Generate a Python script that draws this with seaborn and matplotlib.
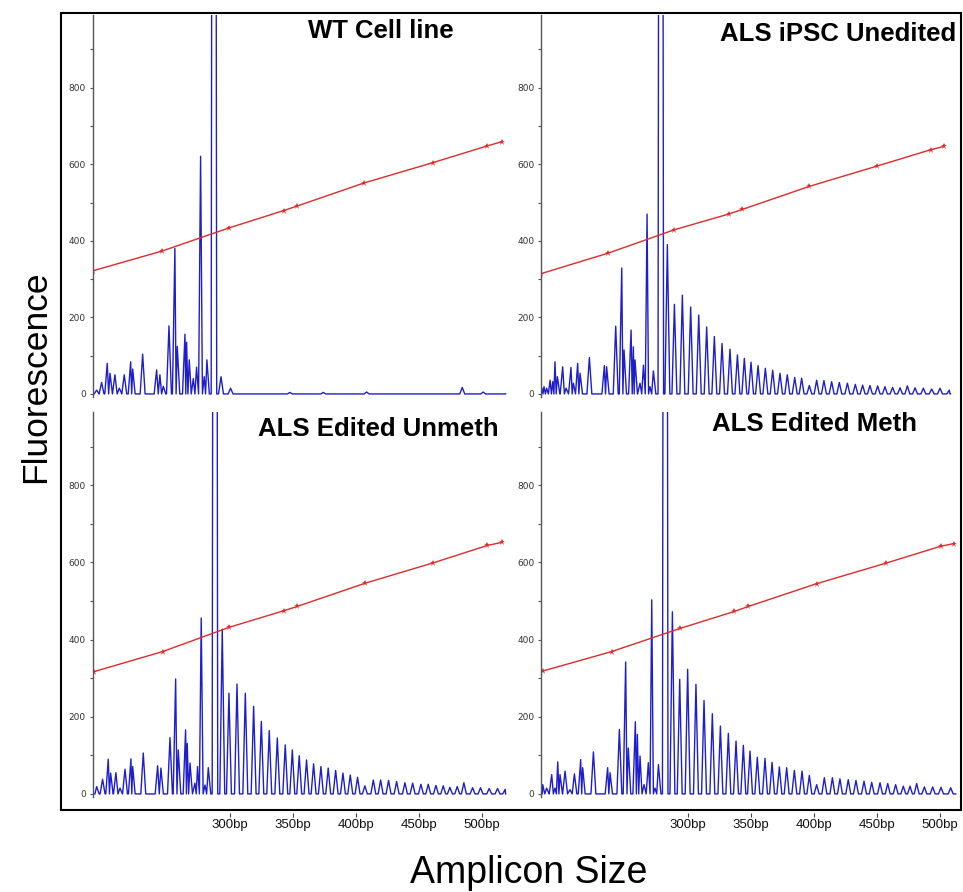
import numpy as np
import matplotlib
matplotlib.use("Agg")
import matplotlib.pyplot as plt
import matplotlib.patches as mpatches
import seaborn as sns

# ---------------------------------------------------------------------------
# Data (x in bp, y in RFU)
# ---------------------------------------------------------------------------
PANEL_TITLES = ["WT Cell line", "ALS iPSC Unedited", "ALS Edited Unmeth", "ALS Edited Meth"]

# WT cell line (top left)
WT_POS = [194.2, 198.1, 202.6, 204.8, 208.7, 212.2, 216.1, 221.2, 222.8, 230.7,
          241.8, 244.4, 247.1, 251.6, 256.3, 258.2, 264.3, 265.6, 267.7, 270.9,
          273.5, 276.7, 279.6, 281.7, 287.3, 292.9, 300.5, 347.6, 374.1, 408.5,
          484.4, 501.0]
WT_HGT = [10, 30, 80, 54, 50, 15, 50, 84, 65, 104,
          63, 50, 20, 178, 380, 124, 156, 135, 89, 40,
          70, 621, 45, 89, 6000, 45, 15, 4, 4, 5,
          17, 5]

# ALS iPSC unedited (top right)
UNED_POS = [184.0, 185.7, 187.8, 190.5, 192.6, 194.4, 196.3, 200.5, 203.2, 207.1,
            209.0, 212.4, 214.3, 221.7, 233.6, 235.4, 242.6, 247.4, 249.2, 254.8,
            256.6, 257.9, 261.9, 264.6, 267.5, 269.8, 272.5, 278.4, 283.6, 289.2,
            295.5, 302.1, 308.5, 314.8, 320.9, 327.0, 333.3, 339.2, 344.7, 350.0,
            355.6, 361.4, 367.2, 373.0, 378.8, 384.7, 390.2, 396.3, 402.1, 407.9,
            414.0, 420.1, 426.5, 432.8, 438.6, 444.4, 450.5, 456.3, 462.4, 468.3,
            474.1, 480.2, 486.8, 493.4, 500.0, 507.4]
UNED_HGT = [15, 19, 15, 36, 32, 84, 45, 71, 15, 69,
            28, 80, 54, 95, 74, 71, 177, 329, 115, 167,
            123, 89, 28, 75, 470, 19, 60, 6000, 390, 234,
            258, 227, 206, 175, 150, 132, 117, 102, 93, 83,
            74, 67, 62, 54, 50, 43, 41, 22, 36, 35,
            32, 30, 28, 25, 23, 22, 21, 19, 17, 16,
            21, 16, 15, 13, 15, 10]

# ALS edited, unmethylated (bottom left)
UNMETH_POS = [194.2, 198.9, 203.4, 205.3, 209.5, 212.7, 216.7, 221.4, 222.8, 231.2,
              242.6, 245.2, 252.4, 256.9, 259.0, 264.8, 266.1, 268.3, 272.2, 274.3,
              277.2, 280.2, 282.8, 288.1, 293.9, 299.2, 305.6, 312.2, 318.8, 324.9,
              331.2, 337.6, 343.9, 349.5, 355.0, 360.8, 366.4, 372.2, 378.0, 383.9,
              389.7, 395.5, 401.3, 407.1, 413.8, 419.6, 425.9, 432.3, 438.9, 445.0,
              451.6, 457.4, 463.5, 469.3, 474.6, 480.4, 485.7, 492.6, 498.9, 505.8,
              512.4, 518.5]
UNMETH_HGT = [19, 38, 90, 54, 55, 15, 64, 91, 71, 106,
              73, 67, 146, 298, 114, 166, 131, 80, 28, 71,
              456, 23, 68, 6000, 427, 261, 285, 261, 227, 188,
              164, 145, 127, 114, 99, 88, 78, 71, 67, 61,
              54, 49, 43, 21, 36, 36, 35, 32, 29, 28,
              25, 25, 22, 21, 17, 19, 29, 16, 16, 14,
              14, 12]

# ALS edited, methylated (bottom right)
METH_POS = [184.7, 187.8, 191.8, 194.4, 196.6, 198.4, 202.4, 206.3, 209.8, 214.8,
            216.4, 224.9, 236.2, 238.1, 245.5, 250.5, 252.6, 258.2, 259.8, 261.9,
            265.1, 268.5, 271.2, 273.8, 276.5, 281.9, 287.6, 293.4, 299.7, 306.3,
            312.7, 319.3, 325.7, 332.0, 338.1, 343.9, 349.2, 355.0, 361.1, 366.7,
            372.5, 378.3, 384.4, 390.5, 396.3, 402.1, 408.2, 414.6, 420.6, 427.2,
            433.3, 439.7, 445.8, 452.4, 458.5, 464.8, 470.9, 476.2, 481.5, 487.6,
            494.2, 500.8, 508.5]
METH_HGT = [24, 15, 50, 15, 83, 50, 59, 11, 52, 89,
            68, 109, 68, 55, 167, 342, 119, 187, 154, 98,
            24, 81, 503, 15, 76, 6000, 472, 297, 323, 284,
            242, 208, 176, 157, 137, 126, 111, 95, 92, 82,
            70, 68, 61, 59, 48, 24, 42, 42, 39, 37,
            35, 33, 30, 29, 27, 24, 20, 20, 27, 18,
            18, 17, 16]

# first / last scan point of each trace (bp)
SCAN_START = [190.2, 182.5, 191.5, 183.9]
SCAN_END = [519.0, 508.5, 519.0, 512.7]

# size standard (red) markers per panel
STD_X = [
    [191.5, 245.8, 299.5, 342.6, 353.4, 406.3, 460.8, 504.2, 515.9],
    [183.1, 236.8, 289.2, 332.3, 343.1, 396.0, 449.7, 492.6, 503.4],
    [192.1, 246.6, 299.5, 342.9, 353.4, 407.1, 461.4, 504.2, 515.9],
    [185.2, 239.4, 293.7, 336.8, 347.9, 402.1, 456.9, 500.5, 511.1],
]
STD_Y = [
    [322, 373, 434, 479, 491, 551, 604, 648, 659],
    [314, 368, 429, 470, 482, 542, 595, 638, 647],
    [317, 369, 432, 475, 486, 546, 599, 644, 652],
    [319, 369, 429, 473, 486, 545, 598, 642, 649],
]

X_TICKS = [300, 350, 400, 450, 500]
X_TICK_LABELS = ["300bp", "350bp", "400bp", "450bp", "500bp"]
Y_TICKS = [0, 200, 400, 600, 800]
Y_MINOR_TICKS = [100, 300, 500, 700, 900]

W, H = 963, 892
BLUE = "#1e1ecc"
RED = "#e02a2a"


def fig_rect(left, top, right, bottom):
    # pixel box (from top-left) -> figure fraction [l, b, w, h]
    return [left / W, 1 - bottom / H, (right - left) / W, (bottom - top) / H]


def build_trace(pos, hgt, start, end, half_width=1.95, big_half_width=2.2):
    xs, ys = [start], [0.0]
    n = len(pos)
    for i in range(n):
        p, h = pos[i], hgt[i]
        left_gap = p - (pos[i - 1] if i > 0 else start)
        right_gap = (pos[i + 1] if i < n - 1 else end) - p
        hw = big_half_width if h > 1000 else half_width
        wl = min(hw, left_gap / 2)
        wr = min(hw, right_gap / 2)
        xs += [p - wl, p, p + wr]
        ys += [0.0, h, 0.0]
    xs.append(end)
    ys.append(0.0)
    return xs, ys


def draw_figure():
    sns.set_theme(style="white")
    plt.rcParams["font.family"] = ["Liberation Sans", "DejaVu Sans"]

    fig = plt.figure(figsize=(W / 100, H / 100), dpi=100)

    traces = [(WT_POS, WT_HGT), (UNED_POS, UNED_HGT),
              (UNMETH_POS, UNMETH_HGT), (METH_POS, METH_HGT)]
    boxes = [(92.5, 15, 510, 397), (541, 15, 958, 397),
             (92.5, 412, 510, 797), (541, 412, 958, 797)]
    xlims = [(190.9, 522.3), (183.3, 514.3), (190.9, 522.3), (183.3, 514.3)]
    # title anchor: (x centre, baseline) in pixels
    title_pos = [(381, 38.3), (838, 40.7), (378, 436), (814.5, 431)]

    for i, (pos, hgt) in enumerate(traces):
        ax = fig.add_axes(fig_rect(*boxes[i]))
        ax.set_facecolor("none")

        xs, ys = build_trace(pos, hgt, SCAN_START[i], SCAN_END[i])
        sns.lineplot(x=xs, y=ys, sort=False, estimator=None, color=BLUE,
                     linewidth=1.0, ax=ax)
        sns.lineplot(x=STD_X[i], y=STD_Y[i], sort=False, estimator=None, color=RED,
                     linewidth=1.0, marker="*", markersize=5, markeredgewidth=0,
                     ax=ax)

        ax.set_xlim(*xlims[i])
        ax.set_ylim(-8, 990)
        ax.set_xlabel("")
        ax.set_ylabel("")

        for side in ["top", "right"]:
            ax.spines[side].set_visible(False)
        ax.spines["left"].set_color("#555555")
        ax.spines["left"].set_linewidth(1.0)

        ax.set_yticks(Y_TICKS)
        ax.set_yticks(Y_MINOR_TICKS, minor=True)
        ax.set_yticklabels([str(v) for v in Y_TICKS])
        ax.tick_params(axis="y", which="both", left=True, length=2.3, width=0.8,
                       color="#555555", pad=2.5)
        ax.tick_params(axis="y", which="major", labelsize=6.5, labelcolor="#333333")
        for lab in ax.get_yticklabels():
            lab.set_family("DejaVu Sans")

        if i >= 2:
            ax.spines["bottom"].set_position(("outward", 11.5))
            ax.spines["bottom"].set_visible(False)
            ax.set_xticks(X_TICKS)
            ax.set_xticklabels(X_TICK_LABELS)
            ax.tick_params(axis="x", bottom=True, direction="out", length=3,
                           width=0.8, color="#444444", pad=1.5, labelsize=9.5,
                           labelcolor="#111111")
        else:
            ax.spines["bottom"].set_visible(False)
            ax.set_xticks([])

        tx, ty = title_pos[i]
        fig.text(tx / W, 1 - ty / H, PANEL_TITLES[i], ha="center", va="baseline",
                 fontsize=18.5, fontweight="bold", color="black")

    # frame around the four panels
    fig.add_artist(mpatches.Rectangle((60.5 / W, 1 - 810 / H), (961 - 60.5) / W,
                                      (810 - 12.5) / H, transform=fig.transFigure,
                                      fill=False, edgecolor="black", linewidth=1.5))

    fig.text(45 / W, 1 - 376.5 / H, "Fluorescence", rotation=90,
             rotation_mode="anchor", ha="center", va="baseline", fontsize=25.5,
             color="black")
    fig.text(529 / W, 1 - 883 / H, "Amplicon Size", ha="center", va="baseline",
             fontsize=27, color="black")

    fig.savefig("out.png", dpi=100)
    plt.close(fig)


if __name__ == "__main__":
    draw_figure()
